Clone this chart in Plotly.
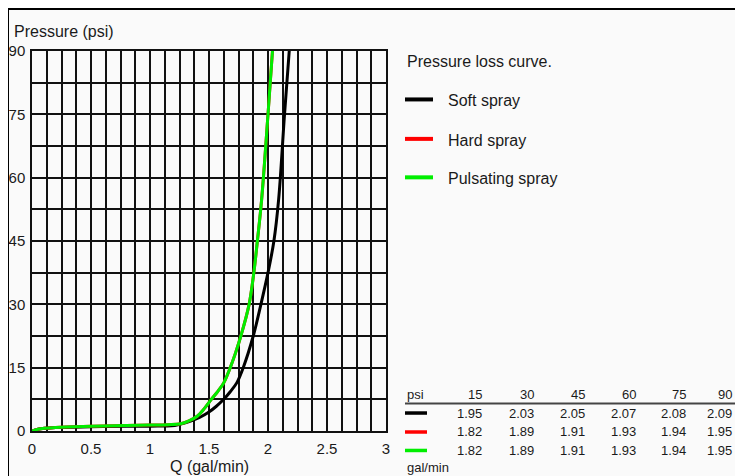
import plotly.graph_objects as go

# ---------------- data ----------------
soft_q = [0, 0.05, 0.2, 0.5, 0.8, 1.0, 1.1, 1.21, 1.35, 1.42, 1.49, 1.56, 1.625, 1.68, 1.735, 1.79, 1.875, 1.94, 2.0, 2.05, 2.09, 2.14, 2.18]
soft_p = [0, 0.4, 0.8, 1.0, 1.1, 1.15, 1.2, 1.3, 2.4, 3.2, 4.3, 5.8, 7.5, 9.3, 11.4, 15, 22.5, 30, 37.5, 45, 54.8, 75, 90]

hard_q = [0, 0.05, 0.2, 0.5, 0.8, 1.0, 1.15, 1.26, 1.33, 1.40, 1.46, 1.52, 1.575, 1.625, 1.68, 1.725, 1.77, 1.84, 1.88, 1.91, 1.946, 2.0, 2.038]
hard_p = [0, 0.4, 0.8, 1.1, 1.3, 1.4, 1.5, 1.7, 2.4, 3.5, 5.3, 7.5, 9.4, 11.4, 15, 18.5, 22.5, 30, 37.5, 45, 54.8, 75, 90]

puls_q = [0, 0.05, 0.2, 0.5, 0.8, 1.0, 1.15, 1.26, 1.33, 1.40, 1.46, 1.52, 1.575, 1.625, 1.68, 1.725, 1.77, 1.84, 1.88, 1.91, 1.946, 2.0, 2.038]
puls_p = [0, 0.4, 0.8, 1.1, 1.3, 1.4, 1.5, 1.7, 2.4, 3.5, 5.3, 7.5, 9.4, 11.4, 15, 18.5, 22.5, 30, 37.5, 45, 54.8, 75, 90]

series_names = ["Soft spray", "Hard spray", "Pulsating spray"]
series_colors = ["#000000", "#ff0000", "#00ee00"]

table_psi = ["15", "30", "45", "60", "75", "90"]
table_soft = ["1.95", "2.03", "2.05", "2.07", "2.08", "2.09"]
table_hard = ["1.82", "1.89", "1.91", "1.93", "1.94", "1.95"]
table_puls = ["1.82", "1.89", "1.91", "1.93", "1.94", "1.95"]

# ---------------- layout helpers ----------------
SW, SH = 743, 476        # browser window
OX, OY = 8, 8            # page body margin offset
W, H = SW - OX, SH - OY
ML, MT = 32 - OX, 51 - OY
MR = W - (386 - OX)
MB = H - (431.5 - OY)
PW = W - ML - MR
PH = H - MT - MB

def px(sx):
    return (sx - OX - ML) / PW

def py(sy):
    return (H - MB - (sy - OY)) / PH

FONT = "Liberation Sans, Arial, sans-serif"
TXT = "#1a1a1a"

fig = go.Figure()
for q, p, name, col in zip([soft_q, hard_q, puls_q], [soft_p, hard_p, puls_p], series_names, series_colors):
    fig.add_trace(go.Scatter(x=q, y=p, mode="lines", name=name,
                             line=dict(color=col, width=3, shape="spline", smoothing=1.0),
                             showlegend=False, cliponaxis=False))

shapes = []
annotations = []

# outer frame (top and left edges)
shapes.append(dict(type="rect", xref="paper", yref="paper",
                   x0=px(OX), x1=px(SW + 30), y0=py(SH + 30), y1=py(OY + 1),
                   line=dict(color="#000", width=2), layer="below"))

# axis titles
annotations.append(dict(text="Pressure (psi)", xref="paper", yref="paper",
                        x=px(12), y=py(31), xanchor="left", yanchor="middle",
                        showarrow=False, font=dict(size=16, color=TXT, family=FONT)))
annotations.append(dict(text="Q (gal/min)", xref="paper", yref="paper",
                        x=px(209), y=py(467), xanchor="center", yanchor="middle",
                        showarrow=False, font=dict(size=16, color=TXT, family=FONT)))

# legend
annotations.append(dict(text="Pressure loss curve.", xref="paper", yref="paper",
                        x=px(405), y=py(62), xanchor="left", yanchor="middle",
                        showarrow=False, font=dict(size=16, color=TXT, family=FONT)))
leg_y = [99.5, 139, 177.5]
for name, col, yy in zip(series_names, series_colors, leg_y):
    shapes.append(dict(type="line", xref="paper", yref="paper",
                       x0=px(405), x1=px(433), y0=py(yy), y1=py(yy),
                       line=dict(color=col, width=4)))
    annotations.append(dict(text=name, xref="paper", yref="paper",
                            x=px(446), y=py(yy + 1.5), xanchor="left", yanchor="middle",
                            showarrow=False, font=dict(size=16, color=TXT, family=FONT)))

# table
col_right = [484, 536, 587, 638, 688, 734]
TF = dict(size=13, color=TXT, family=FONT)
annotations.append(dict(text="psi", xref="paper", yref="paper", x=px(405), y=py(395),
                        xanchor="left", yanchor="middle", showarrow=False, font=TF))
for v, xr in zip(table_psi, col_right):
    annotations.append(dict(text=v, xref="paper", yref="paper", x=px(xr), y=py(395),
                            xanchor="right", yanchor="middle", showarrow=False, font=TF))
shapes.append(dict(type="line", xref="paper", yref="paper",
                   x0=px(405), x1=px(SW + 20), y0=py(404), y1=py(404),
                   line=dict(color="#444", width=2)))
row_y = [413.5, 432.5, 451]
for vals, col, yy in zip([table_soft, table_hard, table_puls], series_colors, row_y):
    shapes.append(dict(type="line", xref="paper", yref="paper",
                       x0=px(405), x1=px(427), y0=py(yy), y1=py(yy),
                       line=dict(color=col, width=3.5)))
    for v, xr in zip(vals, col_right):
        annotations.append(dict(text=v, xref="paper", yref="paper", x=px(xr), y=py(yy),
                                xanchor="right", yanchor="middle", showarrow=False, font=TF))
annotations.append(dict(text="gal/min", xref="paper", yref="paper", x=px(405), y=py(468),
                        xanchor="left", yanchor="middle", showarrow=False, font=TF))

GRID = "#111111"
fig.update_layout(
    width=W, height=H,
    margin=dict(l=ML, r=MR, t=MT, b=MB, pad=0, autoexpand=False),
    paper_bgcolor="#fafafa", plot_bgcolor="#fafafa",
    font=dict(family=FONT, color=TXT),
    shapes=shapes, annotations=annotations,
    xaxis=dict(range=[0, 3], dtick=0.5, tick0=0, showgrid=True, gridcolor=GRID, gridwidth=1.5,
               minor=dict(dtick=0.125, showgrid=True, gridcolor=GRID, gridwidth=1.5),
               showline=True, linecolor=GRID, linewidth=1.5, mirror=True, automargin=False,
               ticks="outside", ticklen=3, tickcolor="rgba(0,0,0,0)",
               zeroline=False, tickfont=dict(size=15, color=TXT, family=FONT), fixedrange=True),
    yaxis=dict(range=[0, 90], dtick=15, tick0=0, showgrid=True, gridcolor=GRID, gridwidth=1.5,
               minor=dict(dtick=7.5, showgrid=True, gridcolor=GRID, gridwidth=1.5),
               showline=True, linecolor=GRID, linewidth=1.5, mirror=True, automargin=False,
               ticks="outside", ticklen=2, tickcolor="rgba(0,0,0,0)",
               zeroline=False, tickfont=dict(size=15, color=TXT, family=FONT), fixedrange=True),
)

fig.write_html("out.html")
